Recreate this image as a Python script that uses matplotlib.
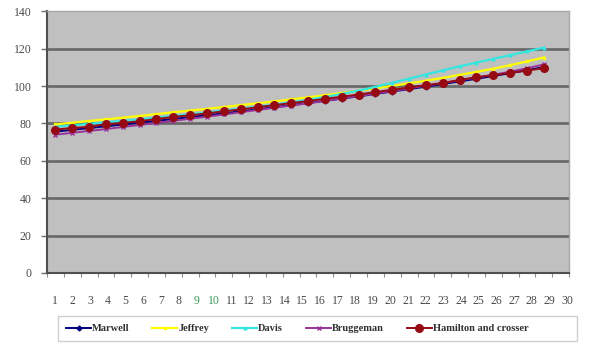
import numpy as np
import matplotlib.pyplot as plt
from matplotlib.patches import Rectangle

# series values, one point per sample (1..30)
samples = list(range(1, 31))
marwell = [75.6, 76.6, 77.5, 78.5, 79.4, 80.4, 81.4, 82.4, 83.4, 84.4,
           85.4, 86.5, 87.6, 88.7, 89.8, 90.9, 92.1, 93.3, 94.5, 95.8,
           97.1, 98.4, 99.7, 101.1, 102.5, 103.9, 105.4, 106.9, 108.5, 110.2]
jeffrey = [79.5, 80.4, 81.3, 82.2, 83.1, 84.0, 85.0, 86.0, 86.9, 87.8,
           88.8, 89.8, 90.8, 91.8, 92.9, 94.0, 95.1, 96.3, 97.5, 98.8,
           100.1, 101.5, 102.9, 104.4, 106.0, 107.6, 109.3, 111.2, 113.2, 115.3]
davis = [78.3, 79.0, 79.8, 80.6, 81.4, 82.2, 83.1, 84.0, 84.9, 85.9,
         86.9, 87.9, 89.0, 90.1, 91.3, 92.7, 94.2, 95.8, 97.6, 99.6,
         101.8, 104.0, 106.2, 108.4, 110.6, 112.6, 114.6, 116.6, 118.6, 120.6]
bruggeman = [74.0, 75.0, 76.0, 77.0, 78.1, 79.2, 80.3, 81.4, 82.5, 83.6,
             84.8, 86.0, 87.2, 88.4, 89.6, 90.8, 92.1, 93.4, 94.7, 96.0,
             97.4, 98.8, 100.2, 101.6, 103.1, 104.6, 106.1, 107.7, 109.6, 111.6]
hamilton = [76.7, 77.6, 78.2, 79.6, 80.3, 81.2, 82.4, 83.5, 84.4, 85.4,
            86.5, 87.5, 88.7, 89.8, 90.9, 92.0, 93.2, 94.3, 95.5, 96.8,
            98.0, 99.3, 100.5, 101.7, 103.3, 104.8, 105.8, 107.1, 108.3, 109.6]

x_labels = [str(i) for i in range(1, 31)]
y_ticks = [0, 20, 40, 60, 80, 100, 120, 140]

plt.rcParams['font.family'] = ['Liberation Serif', 'DejaVu Serif']

fig = plt.figure(figsize=(5.91, 3.45), dpi=100)
ax = fig.add_axes([0.0795, 0.209, 0.8835, 0.758])
ax.set_facecolor('#c0c0c0')

ax.plot(samples, marwell, color='#000080', lw=1.4, marker='D', ms=2.5, label='Marwell')
ax.plot(samples, jeffrey, color='#ffff00', lw=1.6, marker='s', ms=2, label='Jeffrey')
ax.plot(samples, davis, color='#33e6e0', lw=1.6, marker='^', ms=2, label='Davis')
ax.plot(samples, bruggeman, color='#993399', lw=1.4, marker='x', ms=2.5, label='Bruggeman')
ax.plot(samples, hamilton, color='#960a14', lw=1.4, marker='o', ms=5.5,
        label='Hamilton and crosser')

ax.set_xlim(0.5, 31.5)
ax.set_ylim(0, 140)

# gridlines
for v in y_ticks[1:-1]:
    ax.axhline(v, color='#666666', lw=1.9, zorder=1)
ax.axhline(140, color='#a8a8a8', lw=1.2, zorder=1)

for s in ['top', 'right']:
    ax.spines[s].set_color('#a8a8a8')
    ax.spines[s].set_linewidth(1.0)
for s in ['left', 'bottom']:
    ax.spines[s].set_color('#505050')
    ax.spines[s].set_linewidth(1.5)

ax.set_yticks(y_ticks)
ax.set_yticklabels([str(v) for v in y_ticks])
ax.tick_params(axis='y', length=4, width=1, color='#707070', pad=7,
               labelsize=8.5, labelcolor='#4a4a4a')

# category tick marks at boundaries, labels spread along the axis
ax.set_xticks(np.arange(0.5, 31.6, 1.0))
ax.set_xticklabels([])
ax.tick_params(axis='x', which='major', length=3, width=0.8, color='#909090')
label_pos = np.linspace(0.975, 31.38, 30)
ax.set_xticks(label_pos, minor=True)
ax.set_xticklabels(x_labels, minor=True)
ax.tick_params(axis='x', which='minor', length=0, pad=16, labelsize=8.5,
               labelcolor='#4a4a4a')
for t in ax.get_xticklabels(minor=True):
    if t.get_text() in ('9', '10'):
        t.set_color('#3a9a5a')

# legend box along the bottom
fig.patches.append(Rectangle((58 / 591, 4 / 345), 519 / 591, 25 / 345,
                             transform=fig.transFigure, facecolor='white',
                             edgecolor='#d0d0d0', lw=1.0))
leg = fig.legend(loc='center left', bbox_to_anchor=(66 / 591, 16.5 / 345),
                 ncol=5, frameon=False, handlelength=2.4, handletextpad=0.1,
                 columnspacing=2.2, borderaxespad=0, borderpad=0,
                 prop={'size': 7.5, 'weight': 'bold'})
for t in leg.get_texts():
    t.set_color('#303030')

fig.savefig('out.png', dpi=100, facecolor='white')
